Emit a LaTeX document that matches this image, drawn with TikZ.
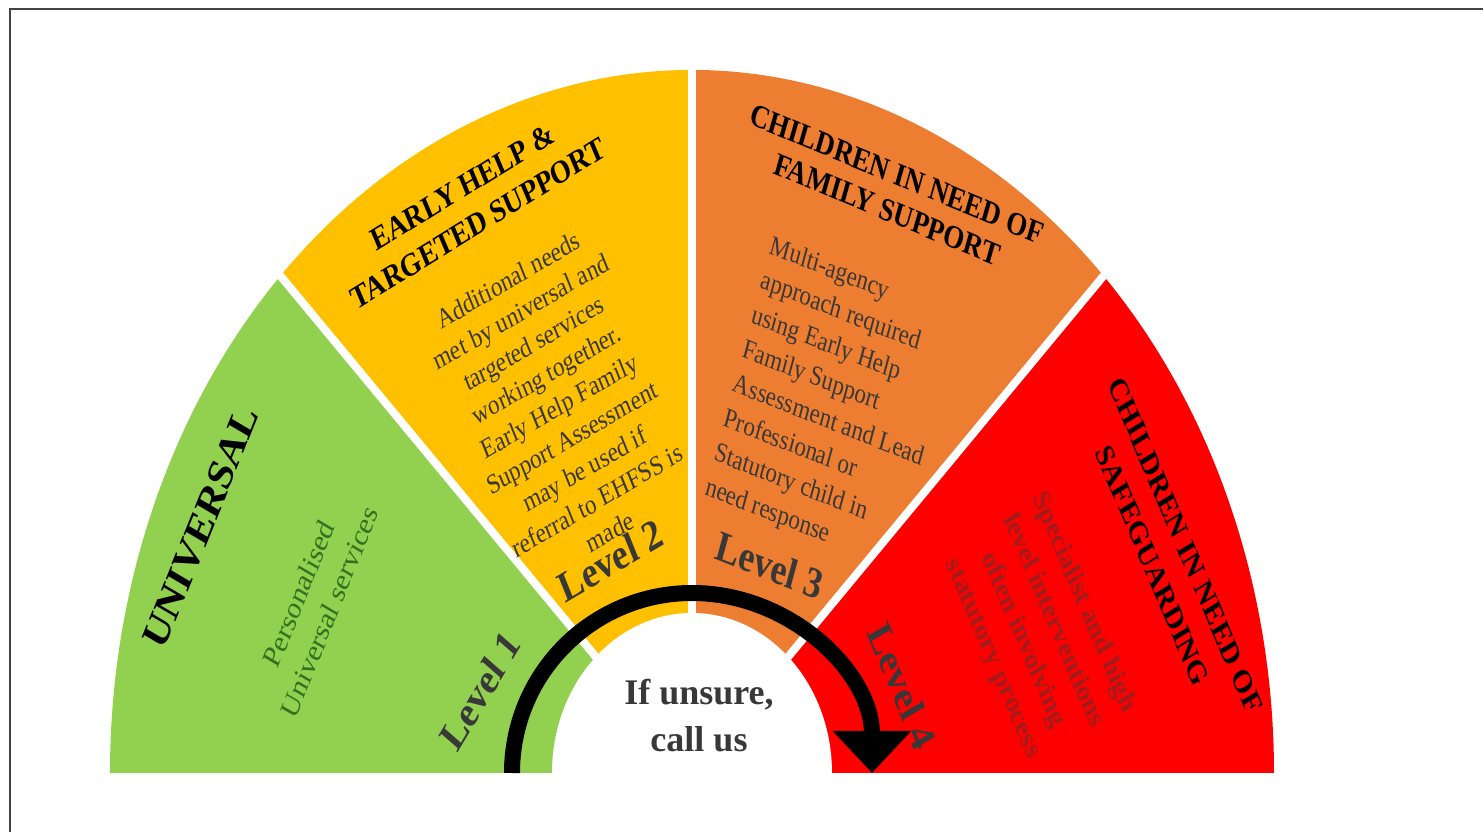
\documentclass[tikz,border=0pt]{standalone}
\usepackage{fontspec}
\setmainfont{Liberation Serif}
\usepackage{xcolor}
\usetikzlibrary{arrows.meta,positioning}
\definecolor{lvlgreen}{HTML}{92D050}
\definecolor{lvlyellow}{HTML}{FFC000}
\definecolor{lvlorange}{HTML}{ED7D31}
\definecolor{lvlred}{HTML}{FF0000}
\definecolor{textgray}{HTML}{383838}
\definecolor{textgreen}{HTML}{33701F}
\definecolor{textred}{HTML}{A01C1C}
\definecolor{framegray}{HTML}{444444}

\begin{document}
\begin{tikzpicture}[
    x=1pt, y=1pt,
    every node/.style={inner sep=0pt},
    title/.style={font=\fontsize{27}{34}\selectfont\bfseries, align=center, text=black},
    body/.style={font=\fontsize{23}{29}\selectfont, align=center, text=textgray},
    level/.style={font=\fontsize{36}{40}\selectfont\bfseries, text=textgray},
    gap/.style={white, line width=8pt},
    arrow/.style={-{Triangle[width=76pt,length=42pt]}, line width=16pt, black}
]
    \useasboundingbox (-692,-59) rectangle (791,773);
    \draw[framegray, line width=2pt] (-682,-59) -- (-682,764) -- (791,764);

    \begin{scope}[yscale=1.208, transform shape]
        \fill[lvlgreen]  (0,0) -- (180:582) arc[start angle=180, end angle=135, radius=582] -- cycle;
        \fill[lvlyellow] (0,0) -- (135:582) arc[start angle=135, end angle=90, radius=582] -- cycle;
        \fill[lvlorange] (0,0) -- (90:582) arc[start angle=90, end angle=45, radius=582] -- cycle;
        \fill[lvlred]    (0,0) -- (45:582) arc[start angle=45, end angle=0, radius=582] -- cycle;
        \foreach \a in {135,90,45}
            \draw[gap] (0,0) -- (\a:590);

        \node[title, rotate=64, font=\fontsize{37}{44}\selectfont\bfseries] (universal) at (-491,204) {UNIVERSAL};
        \node[body, rotate=64, text=textgreen, font=\fontsize{26}{34}\selectfont] (personal) at (-378,141) {Personalised\\Universal services};
        \node[level, rotate=54] (level1) at (-212,68) {Level 1};

        \node[title, rotate=27] (earlyhelp) at (-222,470) {EARLY HELP \&\\TARGETED SUPPORT};
        \node[body, rotate=26] (earlybody) at (-133,304) {Additional needs\\met by universal and\\targeted services\\working together.\\Early Help Family\\Support Assessment\\may be used if\\referral to EHFSS is\\made};
        \node[level, rotate=26] (level2) at (-82,176) {Level 2};

        \node[title, rotate=-19, font=\fontsize{27}{31}\selectfont\bfseries] (cinfamily) at (200,481) {CHILDREN IN NEED OF\\FAMILY SUPPORT};
        \node[body, rotate=-18, align=left, font=\fontsize{23}{30}\selectfont] (cinbody) at (141,305) {Multi-agency\\approach required\\using Early Help\\Family Support\\Assessment and Lead\\Professional or\\Statutory child in\\need response};
        \node[level, rotate=-18] (level3) at (78,172) {Level 3};

        \node[title, rotate=-63, font=\fontsize{27}{37}\selectfont\bfseries] (cinsafe) at (477,180) {CHILDREN IN NEED OF\\SAFEGUARDING};
        \node[body, rotate=-63, text=textred, font=\fontsize{25}{34}\selectfont\bfseries] (safebody) at (346,118) {Specialist and high\\level interventions\\often involving\\statutory process};
        \node[level, rotate=-64] (level4) at (210,72) {Level 4};
    \end{scope}

    \fill[white] (-140,0) arc[start angle=180, end angle=0, x radius=140, y radius=160] -- cycle;
    \node[font=\fontsize{36}{47}\selectfont\bfseries, align=center, text=textgray] (unsure) at (7,57) {If unsure,\\call us};

    \coordinate (arrowstart) at (-180,0);
    \draw[arrow] (arrowstart) arc[start angle=180, end angle=0, radius=180];
\end{tikzpicture}
\end{document}
